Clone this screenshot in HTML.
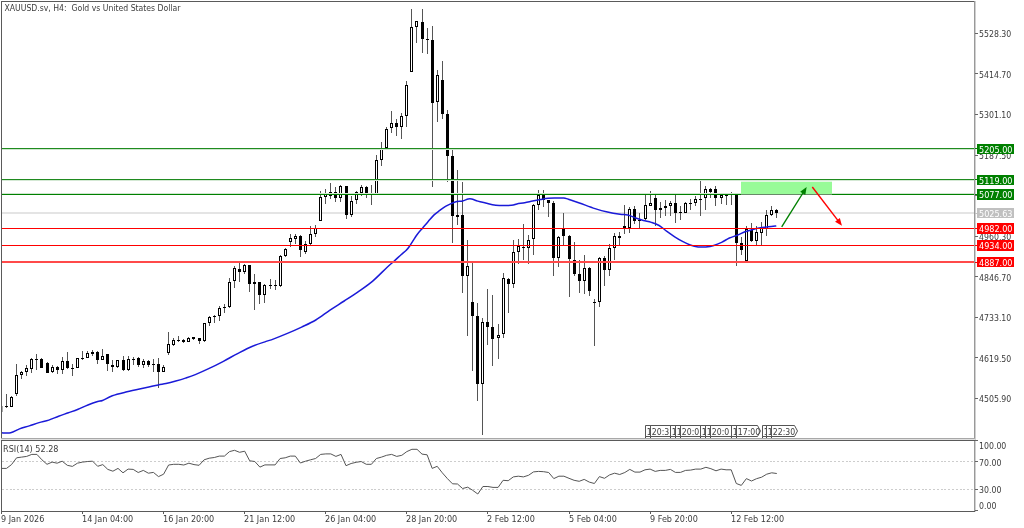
<!DOCTYPE html>
<html><head><meta charset="utf-8"><title>XAUUSD.sv, H4</title>
<style>
html,body{margin:0;padding:0;background:#fff;}
body{width:1024px;height:528px;overflow:hidden;}
svg{display:block;will-change:transform;}
text{font-family:'DejaVu Sans Condensed','DejaVu Sans','Liberation Sans',sans-serif;}
</style></head><body>
<svg width="1024" height="528" viewBox="0 0 1024 528" shape-rendering="crispEdges">
<rect x="0" y="0" width="1024" height="528" fill="#fff"/>

<rect x="2" y="212" width="972" height="2" fill="#e4e4e4"/>
<g fill="#000">
<rect x="2" y="406" width="1" height="6" fill="#aaa"/>
<rect x="6" y="394" width="1" height="14" fill="#555"/>
<rect x="5" y="406" width="3" height="1"/>
<rect x="11" y="396" width="1" height="11" fill="#555"/>
<rect x="10" y="397" width="3" height="10"/>
<rect x="11" y="398" width="1" height="8" fill="#fff"/>
<rect x="16" y="364" width="1" height="32" fill="#555"/>
<rect x="15" y="375" width="3" height="19"/>
<rect x="16" y="376" width="1" height="17" fill="#fff"/>
<rect x="21" y="371" width="1" height="8" fill="#555"/>
<rect x="20" y="372" width="3" height="3"/>
<rect x="21" y="373" width="1" height="1" fill="#fff"/>
<rect x="26" y="365" width="1" height="11" fill="#555"/>
<rect x="25" y="368" width="3" height="4"/>
<rect x="26" y="369" width="1" height="2" fill="#fff"/>
<rect x="31" y="358" width="1" height="15" fill="#555"/>
<rect x="30" y="359" width="3" height="10"/>
<rect x="31" y="360" width="1" height="8" fill="#fff"/>
<rect x="36" y="354" width="1" height="16" fill="#555"/>
<rect x="35" y="359" width="3" height="1"/>
<rect x="41" y="358" width="1" height="10" fill="#555"/>
<rect x="40" y="359" width="3" height="9"/>
<rect x="47" y="362" width="1" height="11" fill="#555"/>
<rect x="46" y="363" width="3" height="10"/>
<rect x="52" y="365" width="1" height="8" fill="#555"/>
<rect x="51" y="367" width="3" height="5"/>
<rect x="52" y="368" width="1" height="3" fill="#fff"/>
<rect x="57" y="366" width="1" height="8" fill="#555"/>
<rect x="56" y="367" width="3" height="3"/>
<rect x="62" y="357" width="1" height="17" fill="#555"/>
<rect x="61" y="361" width="3" height="9"/>
<rect x="62" y="362" width="1" height="7" fill="#fff"/>
<rect x="67" y="352" width="1" height="17" fill="#555"/>
<rect x="66" y="361" width="3" height="7"/>
<rect x="72" y="364" width="1" height="12" fill="#555"/>
<rect x="71" y="368" width="3" height="1"/>
<rect x="77" y="358" width="1" height="10" fill="#555"/>
<rect x="76" y="358" width="3" height="10"/>
<rect x="77" y="359" width="1" height="8" fill="#fff"/>
<rect x="82" y="351" width="1" height="9" fill="#555"/>
<rect x="81" y="358" width="3" height="1"/>
<rect x="87" y="351" width="1" height="7" fill="#555"/>
<rect x="86" y="353" width="3" height="5"/>
<rect x="87" y="354" width="1" height="3" fill="#fff"/>
<rect x="92" y="350" width="1" height="6" fill="#555"/>
<rect x="91" y="352" width="3" height="2"/>
<rect x="97" y="351" width="1" height="13" fill="#555"/>
<rect x="96" y="352" width="3" height="8"/>
<rect x="102" y="349" width="1" height="11" fill="#555"/>
<rect x="101" y="356" width="3" height="4"/>
<rect x="102" y="357" width="1" height="2" fill="#fff"/>
<rect x="107" y="354" width="1" height="17" fill="#555"/>
<rect x="106" y="354" width="3" height="10"/>
<rect x="112" y="360" width="1" height="12" fill="#555"/>
<rect x="111" y="365" width="3" height="2"/>
<rect x="117" y="360" width="1" height="8" fill="#555"/>
<rect x="116" y="360" width="3" height="7"/>
<rect x="117" y="361" width="1" height="5" fill="#fff"/>
<rect x="123" y="356" width="1" height="15" fill="#555"/>
<rect x="122" y="360" width="3" height="10"/>
<rect x="128" y="356" width="1" height="15" fill="#555"/>
<rect x="127" y="359" width="3" height="11"/>
<rect x="128" y="360" width="1" height="9" fill="#fff"/>
<rect x="133" y="357" width="1" height="8" fill="#555"/>
<rect x="132" y="359" width="3" height="1"/>
<rect x="138" y="357" width="1" height="10" fill="#555"/>
<rect x="137" y="358" width="3" height="7"/>
<rect x="143" y="359" width="1" height="9" fill="#555"/>
<rect x="142" y="361" width="3" height="4"/>
<rect x="143" y="362" width="1" height="2" fill="#fff"/>
<rect x="148" y="360" width="1" height="7" fill="#555"/>
<rect x="147" y="361" width="3" height="4"/>
<rect x="153" y="359" width="1" height="13" fill="#555"/>
<rect x="152" y="364" width="3" height="1"/>
<rect x="158" y="358" width="1" height="30" fill="#555"/>
<rect x="157" y="364" width="3" height="8"/>
<rect x="163" y="365" width="1" height="7" fill="#555"/>
<rect x="162" y="367" width="3" height="5"/>
<rect x="163" y="368" width="1" height="3" fill="#fff"/>
<rect x="168" y="332" width="1" height="23" fill="#555"/>
<rect x="167" y="344" width="3" height="9"/>
<rect x="168" y="345" width="1" height="7" fill="#fff"/>
<rect x="173" y="338" width="1" height="8" fill="#555"/>
<rect x="172" y="340" width="3" height="5"/>
<rect x="173" y="341" width="1" height="3" fill="#fff"/>
<rect x="178" y="336" width="1" height="6" fill="#555"/>
<rect x="177" y="340" width="3" height="1"/>
<rect x="183" y="339" width="1" height="4" fill="#555"/>
<rect x="182" y="340" width="3" height="2"/>
<rect x="188" y="337" width="1" height="5" fill="#555"/>
<rect x="187" y="338" width="3" height="4"/>
<rect x="188" y="339" width="1" height="2" fill="#fff"/>
<rect x="193" y="337" width="1" height="3" fill="#555"/>
<rect x="192" y="337" width="3" height="2"/>
<rect x="199" y="338" width="1" height="6" fill="#555"/>
<rect x="198" y="338" width="3" height="3"/>
<rect x="204" y="323" width="1" height="19" fill="#555"/>
<rect x="203" y="323" width="3" height="18"/>
<rect x="204" y="324" width="1" height="16" fill="#fff"/>
<rect x="209" y="316" width="1" height="10" fill="#555"/>
<rect x="208" y="317" width="3" height="6"/>
<rect x="209" y="318" width="1" height="4" fill="#fff"/>
<rect x="214" y="315" width="1" height="8" fill="#555"/>
<rect x="213" y="316" width="3" height="1"/>
<rect x="219" y="306" width="1" height="15" fill="#555"/>
<rect x="218" y="308" width="3" height="8"/>
<rect x="219" y="309" width="1" height="6" fill="#fff"/>
<rect x="224" y="304" width="1" height="9" fill="#555"/>
<rect x="223" y="307" width="3" height="1"/>
<rect x="229" y="278" width="1" height="30" fill="#555"/>
<rect x="228" y="282" width="3" height="25"/>
<rect x="229" y="283" width="1" height="23" fill="#fff"/>
<rect x="234" y="266" width="1" height="22" fill="#555"/>
<rect x="233" y="268" width="3" height="13"/>
<rect x="234" y="269" width="1" height="11" fill="#fff"/>
<rect x="239" y="262" width="1" height="20" fill="#555"/>
<rect x="238" y="269" width="3" height="3"/>
<rect x="244" y="264" width="1" height="10" fill="#555"/>
<rect x="243" y="265" width="3" height="7"/>
<rect x="244" y="266" width="1" height="5" fill="#fff"/>
<rect x="249" y="265" width="1" height="27" fill="#555"/>
<rect x="248" y="265" width="3" height="19"/>
<rect x="254" y="274" width="1" height="36" fill="#555"/>
<rect x="253" y="282" width="3" height="2"/>
<rect x="259" y="282" width="1" height="22" fill="#555"/>
<rect x="258" y="282" width="3" height="13"/>
<rect x="264" y="284" width="1" height="19" fill="#555"/>
<rect x="263" y="285" width="3" height="10"/>
<rect x="264" y="286" width="1" height="8" fill="#fff"/>
<rect x="270" y="279" width="1" height="10" fill="#555"/>
<rect x="269" y="285" width="3" height="1"/>
<rect x="275" y="280" width="1" height="10" fill="#555"/>
<rect x="274" y="285" width="3" height="1"/>
<rect x="280" y="255" width="1" height="32" fill="#555"/>
<rect x="279" y="256" width="3" height="30"/>
<rect x="280" y="257" width="1" height="28" fill="#fff"/>
<rect x="285" y="248" width="1" height="9" fill="#555"/>
<rect x="284" y="249" width="3" height="7"/>
<rect x="285" y="250" width="1" height="5" fill="#fff"/>
<rect x="290" y="234" width="1" height="13" fill="#555"/>
<rect x="289" y="238" width="3" height="4"/>
<rect x="290" y="239" width="1" height="2" fill="#fff"/>
<rect x="295" y="234" width="1" height="10" fill="#555"/>
<rect x="294" y="236" width="3" height="3"/>
<rect x="295" y="237" width="1" height="1" fill="#fff"/>
<rect x="300" y="235" width="1" height="22" fill="#555"/>
<rect x="299" y="236" width="3" height="14"/>
<rect x="305" y="241" width="1" height="13" fill="#555"/>
<rect x="304" y="244" width="3" height="8"/>
<rect x="305" y="245" width="1" height="6" fill="#fff"/>
<rect x="310" y="226" width="1" height="19" fill="#555"/>
<rect x="309" y="234" width="3" height="10"/>
<rect x="310" y="235" width="1" height="8" fill="#fff"/>
<rect x="315" y="225" width="1" height="12" fill="#555"/>
<rect x="314" y="228" width="3" height="6"/>
<rect x="315" y="229" width="1" height="4" fill="#fff"/>
<rect x="320" y="191" width="1" height="30" fill="#555"/>
<rect x="319" y="197" width="3" height="24"/>
<rect x="320" y="198" width="1" height="22" fill="#fff"/>
<rect x="325" y="189" width="1" height="15" fill="#555"/>
<rect x="324" y="194" width="3" height="3"/>
<rect x="325" y="195" width="1" height="1" fill="#fff"/>
<rect x="330" y="183" width="1" height="16" fill="#555"/>
<rect x="329" y="192" width="3" height="4"/>
<rect x="330" y="193" width="1" height="2" fill="#fff"/>
<rect x="335" y="187" width="1" height="15" fill="#555"/>
<rect x="334" y="192" width="3" height="6"/>
<rect x="340" y="185" width="1" height="17" fill="#555"/>
<rect x="339" y="186" width="3" height="12"/>
<rect x="340" y="187" width="1" height="10" fill="#fff"/>
<rect x="346" y="186" width="1" height="33" fill="#555"/>
<rect x="345" y="186" width="3" height="29"/>
<rect x="351" y="196" width="1" height="21" fill="#555"/>
<rect x="350" y="201" width="3" height="14"/>
<rect x="351" y="202" width="1" height="12" fill="#fff"/>
<rect x="356" y="191" width="1" height="13" fill="#555"/>
<rect x="355" y="192" width="3" height="8"/>
<rect x="356" y="193" width="1" height="6" fill="#fff"/>
<rect x="361" y="185" width="1" height="11" fill="#555"/>
<rect x="360" y="187" width="3" height="6"/>
<rect x="361" y="188" width="1" height="4" fill="#fff"/>
<rect x="366" y="186" width="1" height="12" fill="#555"/>
<rect x="365" y="187" width="3" height="7"/>
<rect x="371" y="185" width="1" height="20" fill="#555"/>
<rect x="370" y="194" width="3" height="1"/>
<rect x="376" y="155" width="1" height="39" fill="#555"/>
<rect x="375" y="160" width="3" height="34"/>
<rect x="376" y="161" width="1" height="32" fill="#fff"/>
<rect x="381" y="142" width="1" height="24" fill="#555"/>
<rect x="380" y="148" width="3" height="12"/>
<rect x="381" y="149" width="1" height="10" fill="#fff"/>
<rect x="386" y="127" width="1" height="23" fill="#555"/>
<rect x="385" y="129" width="3" height="19"/>
<rect x="386" y="130" width="1" height="17" fill="#fff"/>
<rect x="391" y="111" width="1" height="22" fill="#555"/>
<rect x="390" y="123" width="3" height="5"/>
<rect x="391" y="124" width="1" height="3" fill="#fff"/>
<rect x="396" y="119" width="1" height="17" fill="#555"/>
<rect x="395" y="123" width="3" height="4"/>
<rect x="401" y="113" width="1" height="26" fill="#555"/>
<rect x="400" y="116" width="3" height="11"/>
<rect x="401" y="117" width="1" height="9" fill="#fff"/>
<rect x="406" y="81" width="1" height="46" fill="#555"/>
<rect x="405" y="85" width="3" height="31"/>
<rect x="406" y="86" width="1" height="29" fill="#fff"/>
<rect x="411" y="9" width="1" height="63" fill="#555"/>
<rect x="410" y="27" width="3" height="45"/>
<rect x="411" y="28" width="1" height="43" fill="#fff"/>
<rect x="416" y="21" width="1" height="22" fill="#555"/>
<rect x="415" y="21" width="3" height="6"/>
<rect x="416" y="22" width="1" height="4" fill="#fff"/>
<rect x="422" y="9" width="1" height="44" fill="#555"/>
<rect x="421" y="22" width="3" height="17"/>
<rect x="427" y="28" width="1" height="26" fill="#555"/>
<rect x="426" y="39" width="3" height="1"/>
<rect x="432" y="26" width="1" height="161" fill="#555"/>
<rect x="431" y="40" width="3" height="63"/>
<rect x="437" y="70" width="1" height="52" fill="#555"/>
<rect x="436" y="75" width="3" height="27"/>
<rect x="437" y="76" width="1" height="25" fill="#fff"/>
<rect x="442" y="61" width="1" height="58" fill="#555"/>
<rect x="441" y="80" width="3" height="34"/>
<rect x="447" y="110" width="1" height="72" fill="#555"/>
<rect x="446" y="114" width="3" height="42"/>
<rect x="452" y="149" width="1" height="94" fill="#555"/>
<rect x="451" y="156" width="3" height="60"/>
<rect x="457" y="170" width="1" height="55" fill="#555"/>
<rect x="456" y="215" width="3" height="2"/>
<rect x="462" y="182" width="1" height="111" fill="#555"/>
<rect x="461" y="215" width="3" height="61"/>
<rect x="467" y="240" width="1" height="96" fill="#555"/>
<rect x="466" y="266" width="3" height="10"/>
<rect x="467" y="267" width="1" height="8" fill="#fff"/>
<rect x="472" y="263" width="1" height="108" fill="#555"/>
<rect x="471" y="302" width="3" height="14"/>
<rect x="477" y="303" width="1" height="98" fill="#555"/>
<rect x="476" y="316" width="3" height="68"/>
<rect x="482" y="318" width="1" height="117" fill="#555"/>
<rect x="481" y="322" width="3" height="62"/>
<rect x="482" y="323" width="1" height="60" fill="#fff"/>
<rect x="487" y="289" width="1" height="56" fill="#555"/>
<rect x="486" y="322" width="3" height="5"/>
<rect x="492" y="295" width="1" height="71" fill="#555"/>
<rect x="491" y="327" width="3" height="12"/>
<rect x="498" y="324" width="1" height="35" fill="#555"/>
<rect x="497" y="335" width="3" height="3"/>
<rect x="498" y="336" width="1" height="1" fill="#fff"/>
<rect x="503" y="273" width="1" height="65" fill="#555"/>
<rect x="502" y="278" width="3" height="56"/>
<rect x="503" y="279" width="1" height="54" fill="#fff"/>
<rect x="508" y="278" width="1" height="35" fill="#555"/>
<rect x="507" y="279" width="3" height="5"/>
<rect x="513" y="240" width="1" height="48" fill="#555"/>
<rect x="512" y="252" width="3" height="32"/>
<rect x="513" y="253" width="1" height="30" fill="#fff"/>
<rect x="518" y="239" width="1" height="25" fill="#555"/>
<rect x="517" y="246" width="3" height="6"/>
<rect x="518" y="247" width="1" height="4" fill="#fff"/>
<rect x="523" y="224" width="1" height="36" fill="#555"/>
<rect x="522" y="247" width="3" height="1"/>
<rect x="528" y="235" width="1" height="29" fill="#555"/>
<rect x="527" y="240" width="3" height="8"/>
<rect x="528" y="241" width="1" height="6" fill="#fff"/>
<rect x="533" y="204" width="1" height="51" fill="#555"/>
<rect x="532" y="205" width="3" height="34"/>
<rect x="533" y="206" width="1" height="32" fill="#fff"/>
<rect x="538" y="190" width="1" height="20" fill="#555"/>
<rect x="537" y="195" width="3" height="10"/>
<rect x="538" y="196" width="1" height="8" fill="#fff"/>
<rect x="543" y="190" width="1" height="17" fill="#555"/>
<rect x="542" y="195" width="3" height="5"/>
<rect x="548" y="200" width="1" height="17" fill="#555"/>
<rect x="547" y="200" width="3" height="3"/>
<rect x="553" y="201" width="1" height="75" fill="#555"/>
<rect x="552" y="203" width="3" height="55"/>
<rect x="558" y="236" width="1" height="31" fill="#555"/>
<rect x="557" y="237" width="3" height="21"/>
<rect x="558" y="238" width="1" height="19" fill="#fff"/>
<rect x="563" y="213" width="1" height="32" fill="#555"/>
<rect x="562" y="229" width="3" height="7"/>
<rect x="569" y="235" width="1" height="62" fill="#555"/>
<rect x="568" y="236" width="3" height="23"/>
<rect x="574" y="242" width="1" height="34" fill="#555"/>
<rect x="573" y="260" width="3" height="14"/>
<rect x="579" y="260" width="1" height="33" fill="#555"/>
<rect x="578" y="274" width="3" height="7"/>
<rect x="584" y="255" width="1" height="39" fill="#555"/>
<rect x="583" y="268" width="3" height="13"/>
<rect x="584" y="269" width="1" height="11" fill="#fff"/>
<rect x="589" y="267" width="1" height="29" fill="#555"/>
<rect x="588" y="268" width="3" height="23"/>
<rect x="594" y="299" width="1" height="47" fill="#555"/>
<rect x="593" y="302" width="3" height="1"/>
<rect x="599" y="257" width="1" height="50" fill="#555"/>
<rect x="598" y="258" width="3" height="44"/>
<rect x="599" y="259" width="1" height="42" fill="#fff"/>
<rect x="604" y="256" width="1" height="30" fill="#555"/>
<rect x="603" y="258" width="3" height="12"/>
<rect x="609" y="244" width="1" height="32" fill="#555"/>
<rect x="608" y="248" width="3" height="22"/>
<rect x="609" y="249" width="1" height="20" fill="#fff"/>
<rect x="614" y="233" width="1" height="27" fill="#555"/>
<rect x="613" y="236" width="3" height="12"/>
<rect x="614" y="237" width="1" height="10" fill="#fff"/>
<rect x="619" y="232" width="1" height="13" fill="#555"/>
<rect x="618" y="236" width="3" height="2"/>
<rect x="624" y="205" width="1" height="29" fill="#555"/>
<rect x="623" y="226" width="3" height="2"/>
<rect x="629" y="207" width="1" height="26" fill="#555"/>
<rect x="628" y="209" width="3" height="19"/>
<rect x="629" y="210" width="1" height="17" fill="#fff"/>
<rect x="634" y="206" width="1" height="18" fill="#555"/>
<rect x="633" y="209" width="3" height="12"/>
<rect x="639" y="213" width="1" height="15" fill="#555"/>
<rect x="638" y="220" width="3" height="1"/>
<rect x="645" y="193" width="1" height="27" fill="#555"/>
<rect x="644" y="205" width="3" height="14"/>
<rect x="645" y="206" width="1" height="12" fill="#fff"/>
<rect x="650" y="191" width="1" height="15" fill="#555"/>
<rect x="649" y="203" width="3" height="3"/>
<rect x="650" y="204" width="1" height="1" fill="#fff"/>
<rect x="655" y="195" width="1" height="31" fill="#555"/>
<rect x="654" y="198" width="3" height="12"/>
<rect x="660" y="202" width="1" height="16" fill="#555"/>
<rect x="659" y="208" width="3" height="2"/>
<rect x="665" y="200" width="1" height="16" fill="#555"/>
<rect x="664" y="206" width="3" height="2"/>
<rect x="670" y="201" width="1" height="15" fill="#555"/>
<rect x="669" y="203" width="3" height="3"/>
<rect x="670" y="204" width="1" height="1" fill="#fff"/>
<rect x="675" y="195" width="1" height="28" fill="#555"/>
<rect x="674" y="203" width="3" height="10"/>
<rect x="680" y="206" width="1" height="14" fill="#555"/>
<rect x="679" y="212" width="3" height="1"/>
<rect x="685" y="202" width="1" height="11" fill="#555"/>
<rect x="684" y="203" width="3" height="10"/>
<rect x="685" y="204" width="1" height="8" fill="#fff"/>
<rect x="690" y="199" width="1" height="11" fill="#555"/>
<rect x="689" y="203" width="3" height="1"/>
<rect x="695" y="196" width="1" height="10" fill="#555"/>
<rect x="694" y="199" width="3" height="4"/>
<rect x="695" y="200" width="1" height="2" fill="#fff"/>
<rect x="700" y="180" width="1" height="36" fill="#555"/>
<rect x="699" y="199" width="3" height="1"/>
<rect x="705" y="186" width="1" height="24" fill="#555"/>
<rect x="704" y="189" width="3" height="9"/>
<rect x="705" y="190" width="1" height="7" fill="#fff"/>
<rect x="710" y="188" width="1" height="10" fill="#555"/>
<rect x="709" y="189" width="3" height="3"/>
<rect x="715" y="186" width="1" height="20" fill="#555"/>
<rect x="714" y="189" width="3" height="9"/>
<rect x="721" y="194" width="1" height="10" fill="#555"/>
<rect x="720" y="195" width="3" height="3"/>
<rect x="721" y="196" width="1" height="1" fill="#fff"/>
<rect x="726" y="194" width="1" height="11" fill="#555"/>
<rect x="725" y="194" width="3" height="2"/>
<rect x="731" y="192" width="1" height="13" fill="#555"/>
<rect x="730" y="194" width="3" height="1"/>
<rect x="736" y="194" width="1" height="72" fill="#555"/>
<rect x="735" y="195" width="3" height="48"/>
<rect x="741" y="237" width="1" height="18" fill="#555"/>
<rect x="740" y="243" width="3" height="7"/>
<rect x="746" y="226" width="1" height="35" fill="#555"/>
<rect x="745" y="229" width="3" height="32"/>
<rect x="746" y="230" width="1" height="30" fill="#fff"/>
<rect x="751" y="223" width="1" height="19" fill="#555"/>
<rect x="750" y="230" width="3" height="11"/>
<rect x="756" y="226" width="1" height="19" fill="#555"/>
<rect x="755" y="232" width="3" height="9"/>
<rect x="756" y="233" width="1" height="7" fill="#fff"/>
<rect x="761" y="222" width="1" height="23" fill="#555"/>
<rect x="760" y="228" width="3" height="5"/>
<rect x="761" y="229" width="1" height="3" fill="#fff"/>
<rect x="766" y="210" width="1" height="26" fill="#555"/>
<rect x="765" y="215" width="3" height="14"/>
<rect x="766" y="216" width="1" height="12" fill="#fff"/>
<rect x="771" y="206" width="1" height="10" fill="#555"/>
<rect x="770" y="210" width="3" height="5"/>
<rect x="771" y="211" width="1" height="3" fill="#fff"/>
<rect x="776" y="209" width="1" height="9" fill="#555"/>
<rect x="775" y="210" width="3" height="3"/>
</g>
<path d="M1.50,432.80 C3.03,432.80 7.70,433.45 10.70,432.80 C13.70,432.15 16.40,430.05 19.50,428.90 C22.60,427.75 26.05,426.95 29.30,425.90 C32.55,424.85 35.75,423.57 39.00,422.60 C42.25,421.63 45.53,421.17 48.80,420.10 C52.07,419.03 55.33,417.42 58.60,416.20 C61.87,414.98 65.15,413.95 68.40,412.80 C71.65,411.65 74.85,410.60 78.10,409.30 C81.35,408.00 84.63,406.30 87.90,405.00 C91.17,403.70 95.27,402.25 97.70,401.50 C100.13,400.75 100.07,401.47 102.50,400.50 C104.93,399.53 108.22,397.15 112.30,395.70 C116.38,394.25 121.30,393.17 127.00,391.80 C132.70,390.43 141.30,388.65 146.50,387.50 C151.70,386.35 154.95,385.57 158.20,384.90 C161.45,384.23 163.07,384.15 166.00,383.50 C168.93,382.85 172.55,381.90 175.80,381.00 C179.05,380.10 182.25,379.17 185.50,378.10 C188.75,377.03 191.35,376.22 195.30,374.60 C199.25,372.98 204.52,370.62 209.20,368.40 C213.88,366.18 218.67,363.77 223.40,361.30 C228.13,358.83 232.85,356.07 237.60,353.60 C242.35,351.13 247.15,348.53 251.90,346.50 C256.65,344.47 262.55,342.63 266.10,341.40 C269.65,340.17 269.65,340.43 273.20,339.10 C276.75,337.77 282.67,335.40 287.40,333.40 C292.13,331.40 296.87,329.33 301.60,327.10 C306.33,324.87 311.07,322.83 315.80,320.00 C320.53,317.17 325.27,313.27 330.00,310.10 C334.73,306.93 339.47,304.08 344.20,301.00 C348.93,297.92 353.65,294.92 358.40,291.60 C363.15,288.28 367.95,285.12 372.70,281.10 C377.45,277.08 383.35,270.82 386.90,267.50 C390.45,264.18 391.63,263.33 394.00,261.20 C396.37,259.07 399.05,256.53 401.10,254.70 C403.15,252.87 404.87,251.65 406.30,250.20 C407.73,248.75 407.92,248.57 409.70,246.00 C411.48,243.43 414.83,237.80 417.00,234.80 C419.17,231.80 420.80,230.27 422.70,228.00 C424.60,225.73 426.50,223.38 428.40,221.20 C430.30,219.02 432.20,216.70 434.10,214.90 C436.00,213.10 437.90,211.82 439.80,210.40 C441.70,208.98 443.62,207.53 445.50,206.40 C447.38,205.27 449.22,204.42 451.10,203.60 C452.98,202.78 454.90,201.93 456.80,201.50 C458.70,201.07 460.60,201.42 462.50,201.00 C464.40,200.58 466.68,199.33 468.20,199.00 C469.72,198.67 470.00,198.65 471.60,199.00 C473.20,199.35 475.47,200.43 477.80,201.10 C480.13,201.77 482.60,202.30 485.60,203.00 C488.60,203.70 491.50,204.92 495.80,205.30 C500.10,205.68 507.88,205.53 511.40,205.30 C514.92,205.07 514.68,204.33 516.90,203.90 C519.12,203.47 522.10,203.17 524.70,202.70 C527.30,202.23 529.90,201.62 532.50,201.10 C535.10,200.58 537.70,200.07 540.30,199.60 C542.90,199.13 545.50,198.57 548.10,198.30 C550.70,198.03 553.28,198.05 555.90,198.00 C558.52,197.95 561.72,197.78 563.80,198.00 C565.88,198.22 565.80,198.47 568.40,199.30 C571.00,200.13 574.97,201.45 579.40,203.00 C583.83,204.55 590.32,207.08 595.00,208.60 C599.68,210.12 603.33,211.15 607.50,212.10 C611.67,213.05 616.62,213.83 620.00,214.30 C623.38,214.77 625.20,214.28 627.80,214.90 C630.40,215.52 633.00,217.07 635.60,218.00 C638.20,218.93 640.78,219.77 643.40,220.50 C646.02,221.23 648.68,221.57 651.30,222.40 C653.92,223.23 656.50,224.00 659.10,225.50 C661.70,227.00 664.30,229.52 666.90,231.40 C669.50,233.28 672.10,235.13 674.70,236.80 C677.30,238.47 679.90,240.03 682.50,241.40 C685.10,242.77 687.70,244.08 690.30,245.00 C692.90,245.92 695.50,246.58 698.10,246.90 C700.70,247.22 703.28,247.13 705.90,246.90 C708.52,246.67 711.18,246.25 713.80,245.50 C716.42,244.75 719.00,243.65 721.60,242.40 C724.20,241.15 726.80,239.20 729.40,238.00 C732.00,236.80 734.60,236.23 737.20,235.20 C739.80,234.17 742.40,232.77 745.00,231.80 C747.60,230.83 750.20,230.07 752.80,229.40 C755.40,228.73 758.00,228.23 760.60,227.80 C763.20,227.37 765.78,227.10 768.40,226.80 C771.02,226.50 774.98,226.13 776.30,226.00" fill="none" stroke="#1a1ad8" stroke-width="1.5" stroke-linejoin="round" shape-rendering="auto"/>
<rect x="2" y="148" width="972" height="1" fill="#1f8c1f"/>
<rect x="2" y="149" width="972" height="1" fill="#cfe6cf"/>
<rect x="2" y="179" width="972" height="1" fill="#1f8a1f"/>
<rect x="2" y="180" width="972" height="1" fill="#d4e8d4"/>
<rect x="2" y="193" width="972" height="1" fill="#d0e6d0"/>
<rect x="2" y="194" width="972" height="1" fill="#008000"/>
<rect x="2" y="228" width="972" height="1" fill="#ff0000"/>
<rect x="2" y="245" width="972" height="1" fill="#ff0000"/>
<rect x="2" y="261" width="972" height="2" fill="#ff4a4a"/>
<rect x="741" y="181" width="91" height="1" fill="#e2f9e2"/>
<rect x="741" y="182" width="91" height="12" fill="#98fb98"/>
<rect x="741" y="193" width="91" height="1" fill="#98fb98"/>
<rect x="741" y="194" width="91" height="1" fill="#688a68"/>
<line x1="781.7" y1="226.8" x2="803.24" y2="192.50" stroke="#008000" stroke-width="1.4" shape-rendering="auto"/>
<polygon points="806.7,187.0 805.25,194.95 800.17,191.76" fill="#008000" shape-rendering="auto"/>
<line x1="812.3" y1="187.0" x2="838.05" y2="220.64" stroke="#ff0000" stroke-width="1.4" shape-rendering="auto"/>
<polygon points="842.0,225.8 835.06,221.67 839.82,218.02" fill="#ff0000" shape-rendering="auto"/>
<rect x="645" y="436" width="1" height="3" fill="#444"/>
<path d="M645.5,425.5 H668.5 L671.5,431 L668.5,436.5 H645.5 Z" fill="#fff" stroke="#555" stroke-width="1" shape-rendering="auto"/>
<text x="646.8" y="434.5" font-size="8.6" fill="#3c3c3c">1</text>
<rect x="650" y="436" width="1" height="3" fill="#444"/>
<path d="M650.5,425.5 H673.5 L676.5,431 L673.5,436.5 H650.5 Z" fill="#fff" stroke="#555" stroke-width="1" shape-rendering="auto"/>
<text x="651.8" y="434.5" font-size="8.6" fill="#3c3c3c">20:3</text>
<rect x="670" y="436" width="1" height="3" fill="#444"/>
<path d="M670.5,425.5 H693.5 L696.5,431 L693.5,436.5 H670.5 Z" fill="#fff" stroke="#555" stroke-width="1" shape-rendering="auto"/>
<text x="671.8" y="434.5" font-size="8.6" fill="#3c3c3c">1</text>
<rect x="675" y="436" width="1" height="3" fill="#444"/>
<path d="M675.5,425.5 H698.5 L701.5,431 L698.5,436.5 H675.5 Z" fill="#fff" stroke="#555" stroke-width="1" shape-rendering="auto"/>
<text x="676.8" y="434.5" font-size="8.6" fill="#3c3c3c">1</text>
<rect x="680" y="436" width="1" height="3" fill="#444"/>
<path d="M680.5,425.5 H703.5 L706.5,431 L703.5,436.5 H680.5 Z" fill="#fff" stroke="#555" stroke-width="1" shape-rendering="auto"/>
<text x="681.8" y="434.5" font-size="8.6" fill="#3c3c3c">20:0</text>
<rect x="700" y="436" width="1" height="3" fill="#444"/>
<path d="M700.5,425.5 H723.5 L726.5,431 L723.5,436.5 H700.5 Z" fill="#fff" stroke="#555" stroke-width="1" shape-rendering="auto"/>
<text x="701.8" y="434.5" font-size="8.6" fill="#3c3c3c">1</text>
<rect x="705" y="436" width="1" height="3" fill="#444"/>
<path d="M705.5,425.5 H728.5 L731.5,431 L728.5,436.5 H705.5 Z" fill="#fff" stroke="#555" stroke-width="1" shape-rendering="auto"/>
<text x="706.8" y="434.5" font-size="8.6" fill="#3c3c3c">1</text>
<rect x="710" y="436" width="1" height="3" fill="#444"/>
<path d="M710.5,425.5 H733.5 L736.5,431 L733.5,436.5 H710.5 Z" fill="#fff" stroke="#555" stroke-width="1" shape-rendering="auto"/>
<text x="711.8" y="434.5" font-size="8.6" fill="#3c3c3c">20:0</text>
<rect x="731" y="436" width="1" height="3" fill="#444"/>
<path d="M731.5,425.5 H754.5 L757.5,431 L754.5,436.5 H731.5 Z" fill="#fff" stroke="#555" stroke-width="1" shape-rendering="auto"/>
<text x="732.8" y="434.5" font-size="8.6" fill="#3c3c3c">1</text>
<rect x="736" y="436" width="1" height="3" fill="#444"/>
<path d="M736.5,425.5 H757.5 L760.5,431 L757.5,436.5 H736.5 Z" fill="#fff" stroke="#555" stroke-width="1" shape-rendering="auto"/>
<text x="737.8" y="434.5" font-size="8.6" fill="#3c3c3c">17:00</text>
<rect x="762" y="436" width="1" height="3" fill="#444"/>
<path d="M762.5,425.5 H785.5 L788.5,431 L785.5,436.5 H762.5 Z" fill="#fff" stroke="#555" stroke-width="1" shape-rendering="auto"/>
<text x="763.8" y="434.5" font-size="8.6" fill="#3c3c3c">1</text>
<rect x="766" y="436" width="1" height="3" fill="#444"/>
<path d="M766.5,425.5 H789.5 L792.5,431 L789.5,436.5 H766.5 Z" fill="#fff" stroke="#555" stroke-width="1" shape-rendering="auto"/>
<text x="767.8" y="434.5" font-size="8.6" fill="#3c3c3c">1</text>
<rect x="771" y="436" width="1" height="3" fill="#444"/>
<path d="M771.5,425.5 H794.5 L797.5,431 L794.5,436.5 H771.5 Z" fill="#fff" stroke="#555" stroke-width="1" shape-rendering="auto"/>
<text x="772.8" y="434.5" font-size="8.6" fill="#3c3c3c">22:30</text>
<rect x="1" y="1" width="974" height="1" fill="#5a5a5a"/>
<rect x="1" y="1" width="1" height="438" fill="#5a5a5a"/>
<rect x="974" y="1" width="1" height="511" fill="#999"/>
<rect x="975" y="1" width="1" height="511" fill="#d0d0d0"/>
<rect x="1" y="438" width="974" height="1" fill="#a8a8a8"/>
<rect x="1" y="439" width="974" height="1" fill="#e0e0e0"/>
<rect x="1" y="440" width="976" height="1" fill="#5a5a5a"/>
<rect x="1" y="440" width="1" height="74" fill="#5a5a5a"/>
<rect x="1" y="511" width="974" height="1" fill="#5a5a5a"/>
<line x1="2" y1="461.5" x2="973" y2="461.5" stroke="#cdcdcd" stroke-width="1" stroke-dasharray="2 1.8"/>
<line x1="2" y1="489.5" x2="973" y2="489.5" stroke="#cdcdcd" stroke-width="1" stroke-dasharray="2 1.8"/>
<polyline points="1.4,468.4 6.5,468.4 11.5,464.6 16.6,457.8 21.7,457.1 26.7,456.4 31.8,454.4 36.9,454.4 41.9,459.8 47.0,464.3 52.1,462.1 57.1,463.2 62.2,461.2 67.3,465.3 72.4,466.4 77.4,463.2 82.5,462.1 87.6,461.5 92.6,461.2 97.7,466.3 102.8,464.6 107.8,469.4 112.9,471.2 118.0,468.4 123.0,472.8 128.1,469.1 133.2,469.4 138.2,472.5 143.3,470.4 148.4,473.2 153.4,472.4 158.5,476.6 163.6,474.2 168.6,465.0 173.7,464.3 178.8,464.3 183.8,465.0 188.9,463.2 194.0,464.6 199.1,465.3 204.1,459.8 209.2,458.2 214.3,457.5 219.3,456.1 224.4,456.1 229.5,451.6 234.5,450.3 239.6,452.3 244.7,451.2 249.7,460.8 254.8,461.5 259.9,467.1 264.9,464.9 270.0,464.9 275.1,464.9 280.1,458.5 285.2,457.8 290.3,456.1 295.3,456.1 300.4,463.0 305.5,461.2 310.5,459.8 315.6,458.5 320.7,454.4 325.8,453.9 330.8,453.9 335.9,456.4 341.0,454.4 346.0,465.7 351.1,463.5 356.2,462.3 361.2,461.5 366.3,464.3 371.4,464.3 376.4,458.5 381.5,457.1 386.6,455.3 391.6,454.4 396.7,456.4 401.8,455.3 406.8,451.6 411.9,449.3 417.0,449.3 422.0,454.1 427.1,454.8 432.2,468.4 437.2,466.3 442.3,472.8 447.4,478.6 452.5,483.8 457.5,484.0 462.6,488.5 467.7,487.2 472.7,490.3 477.8,494.0 482.9,486.5 487.9,486.5 493.0,487.4 498.1,487.4 503.1,480.3 508.2,480.7 513.3,476.9 518.3,476.2 523.4,476.9 528.5,475.3 533.5,471.9 538.6,471.4 543.7,471.7 548.7,472.5 553.8,478.6 558.9,476.2 563.9,476.2 569.0,478.3 574.1,480.3 579.2,481.3 584.2,479.4 589.3,482.1 594.4,483.5 599.4,476.6 604.5,478.3 609.6,474.9 614.6,473.2 619.7,474.5 624.8,472.5 629.8,469.4 634.9,472.1 640.0,472.1 645.0,469.8 650.1,469.1 655.2,471.4 660.2,470.4 665.3,470.4 670.4,469.4 675.4,472.4 680.5,472.4 685.6,470.4 690.6,470.1 695.7,469.1 700.8,469.1 705.9,467.3 710.9,468.7 716.0,470.8 721.1,469.1 726.1,469.8 731.2,469.8 736.3,483.5 741.3,485.4 746.4,478.6 751.5,481.0 756.5,478.7 761.6,477.2 766.7,474.2 771.7,472.8 776.8,473.5" fill="none" stroke="#555" stroke-width="1" stroke-linejoin="round" shape-rendering="auto"/>
<g font-size="8.7" fill="#3c3c3c">
<rect x="975" y="33" width="3" height="1" fill="#666"/>
<text x="979" y="37.2">5528.30</text>
<rect x="975" y="73" width="3" height="1" fill="#666"/>
<text x="979" y="77.7">5414.70</text>
<rect x="975" y="114" width="3" height="1" fill="#666"/>
<text x="979" y="118.3">5301.10</text>
<rect x="975" y="155" width="3" height="1" fill="#666"/>
<text x="979" y="158.8">5187.50</text>
<rect x="975" y="195" width="3" height="1" fill="#666"/>
<text x="979" y="199.4">5073.90</text>
<rect x="975" y="236" width="3" height="1" fill="#666"/>
<text x="979" y="240.0">4960.30</text>
<rect x="975" y="276" width="3" height="1" fill="#666"/>
<text x="979" y="280.5">4846.70</text>
<rect x="975" y="317" width="3" height="1" fill="#666"/>
<text x="979" y="321.1">4733.10</text>
<rect x="975" y="357" width="3" height="1" fill="#666"/>
<text x="979" y="361.6">4619.50</text>
<rect x="975" y="398" width="3" height="1" fill="#666"/>
<text x="979" y="402.2">4505.90</text>
</g>
<rect x="975" y="148" width="3" height="1" fill="#008000"/>
<rect x="977" y="144" width="37" height="10" fill="#008000"/>
<text x="979" y="152.6" font-size="9" fill="#fff">5205.00</text>
<rect x="975" y="179" width="3" height="1" fill="#008000"/>
<rect x="977" y="175" width="37" height="10" fill="#008000"/>
<text x="979" y="183.6" font-size="9" fill="#fff">5119.00</text>
<rect x="975" y="194" width="3" height="1" fill="#008000"/>
<rect x="977" y="189" width="37" height="11" fill="#008000"/>
<text x="979" y="198.1" font-size="9" fill="#fff">5077.00</text>
<rect x="975" y="213" width="3" height="1" fill="#c0c0c0"/>
<rect x="977" y="208" width="37" height="10" fill="#c0c0c0"/>
<text x="979" y="216.6" font-size="9" fill="#fff">5025.63</text>
<rect x="975" y="228" width="3" height="1" fill="#ff0000"/>
<rect x="977" y="223" width="37" height="11" fill="#ff0000"/>
<text x="979" y="232.1" font-size="9" fill="#fff">4982.00</text>
<rect x="975" y="245" width="3" height="1" fill="#ff0000"/>
<rect x="977" y="240" width="37" height="11" fill="#ff0000"/>
<text x="979" y="249.1" font-size="9" fill="#fff">4934.00</text>
<rect x="975" y="262" width="3" height="1" fill="#ff0000"/>
<rect x="977" y="257" width="37" height="10" fill="#ff0000"/>
<text x="979" y="265.6" font-size="9" fill="#fff">4887.00</text>
<g font-size="8.7" fill="#3c3c3c">
<rect x="975" y="440" width="3" height="1" fill="#666"/>
<text x="979" y="449">100.00</text>
<rect x="975" y="461" width="3" height="1" fill="#666"/>
<text x="979" y="465.5">70.00</text>
<rect x="975" y="489" width="3" height="1" fill="#666"/>
<text x="979" y="493.3">30.00</text>
<rect x="975" y="510" width="3" height="1" fill="#666"/>
<text x="979" y="508.7">0.00</text>
</g>
<g font-size="9" fill="#3c3c3c">
<rect x="1" y="511" width="1" height="3" fill="#5a5a5a"/>
<text x="1" y="522.1">9 Jan 2026</text>
<rect x="82" y="512" width="1" height="2" fill="#5a5a5a"/>
<text x="82" y="522.1">14 Jan 04:00</text>
<rect x="163" y="512" width="1" height="2" fill="#5a5a5a"/>
<text x="163" y="522.1">16 Jan 20:00</text>
<rect x="244" y="512" width="1" height="2" fill="#5a5a5a"/>
<text x="244" y="522.1">21 Jan 12:00</text>
<rect x="325" y="512" width="1" height="2" fill="#5a5a5a"/>
<text x="325" y="522.1">26 Jan 04:00</text>
<rect x="406" y="512" width="1" height="2" fill="#5a5a5a"/>
<text x="406" y="522.1">28 Jan 20:00</text>
<rect x="487" y="512" width="1" height="2" fill="#5a5a5a"/>
<text x="487" y="522.1">2 Feb 12:00</text>
<rect x="569" y="512" width="1" height="2" fill="#5a5a5a"/>
<text x="569" y="522.1">5 Feb 04:00</text>
<rect x="650" y="512" width="1" height="2" fill="#5a5a5a"/>
<text x="650" y="522.1">9 Feb 20:00</text>
<rect x="731" y="512" width="1" height="2" fill="#5a5a5a"/>
<text x="731" y="522.1">12 Feb 12:00</text>
</g>
<text x="4.5" y="11.3" font-size="8.6" fill="#3c3c3c" xml:space="preserve" style="white-space:pre">XAUUSD.sv, H4:  Gold vs United States Dollar</text>
<text x="3" y="452" font-size="9" fill="#3c3c3c">RSI(14) 52.28</text>
</svg>
</body></html>
